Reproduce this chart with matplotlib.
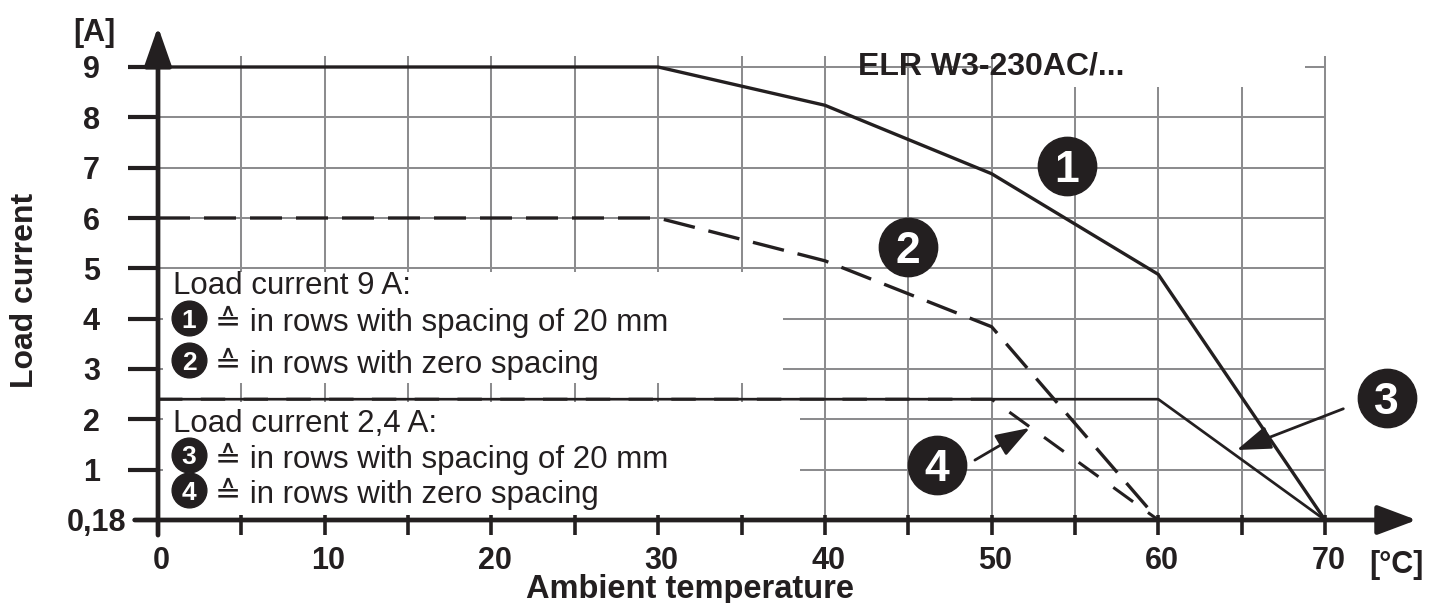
import numpy as np
import matplotlib
matplotlib.use("Agg")
import matplotlib.pyplot as plt
from matplotlib.patches import Rectangle

plt.rcParams['font.family'] = ['Liberation Sans', 'DejaVu Sans']

# ---------------- data ----------------
temp_1 = [0, 30, 40, 50, 60, 70]
curr_1 = [9, 9, 8.24, 6.88, 4.88, 0.18]
temp_2 = [0, 30, 40, 50, 60]
curr_2 = [6, 6, 5.15, 3.84, 0.18]
temp_3 = [0, 60, 70]
curr_3 = [2.4, 2.4, 0.18]
temp_4 = [0, 50, 60]
curr_4 = [2.4, 2.4, 0.18]

x_ticks = [0, 10, 20, 30, 40, 50, 60, 70]
x_grid = [5, 10, 15, 20, 25, 30, 35, 40, 45, 50, 55, 60, 65, 70]
y_ticks = [0.18, 1, 2, 3, 4, 5, 6, 7, 8, 9]
y_labels = ['0,18', '1', '2', '3', '4', '5', '6', '7', '8', '9']

title = "ELR W3-230AC/..."
legend_head_a = "Load current 9 A:"
legend_head_b = "Load current 2,4 A:"
legend_rows = ["\u2259 in rows with spacing of 20 mm", "\u2259 in rows with zero spacing"]

BLACK = '#231f20'
GRAY = '#8c8c8e'

Y0 = 0.18
def fwd(y):
    y = np.asarray(y, dtype=float)
    return np.where(y >= 1, y, (y - Y0) / (1 - Y0))

def inv(v):
    v = np.asarray(v, dtype=float)
    return np.where(v >= 1, v, v * (1 - Y0) + Y0)

W, H = 1442, 603
fig = plt.figure(figsize=(W / 100, H / 100), dpi=100)
ax = fig.add_axes([0, 0, 1, 1])
ax.set_yscale('function', functions=(fwd, inv))
pxu = (1325 - 158) / 70.0
pyu = (520 - 67) / 9.0
ax.set_xlim(-158 / pxu, (W - 158) / pxu)
ax.set_ylim(float(inv(-(H - 520) / pyu)), 520 / pyu)
ax.axis('off')

def fx(px):
    return px / W
def fy(py):
    return 1 - py / H

# grid
ax.vlines(x_grid, Y0, 9.22, color=GRAY, lw=1.45, zorder=1)
ax.hlines(range(1, 10), 0, 70, color=GRAY, lw=1.45, zorder=1)

# white boxes
for (x, y, w, h) in [(0.3, 2.72, 37.2, 2.2), (0.3, float(inv(0.08)), 38.2, 2.35 - float(inv(0.08))),
                     (50.08, 8.61, 18.7, 1.3)]:
    ax.add_patch(Rectangle((x, y), w, h, facecolor='white', edgecolor='none', zorder=2))

# curves
ax.plot(temp_1, curr_1, color=BLACK, lw=2.4, zorder=3, solid_joinstyle='miter')
ax.plot(temp_4, curr_4, color=BLACK, lw=2.2, zorder=3, dashes=(8.0, 6.0))
ax.plot(temp_3, curr_3, color=BLACK, lw=1.95, zorder=3)
ax.plot(temp_2, curr_2, color=BLACK, lw=2.4, zorder=3, dashes=(9.6, 4.2))

# axes with arrows
ax.hlines(y_ticks[1:], -1.8, 0, color=BLACK, lw=3, zorder=4)
ax.vlines(x_grid, float(inv(0.1)), float(inv(-0.3)), color=BLACK, lw=2.6, zorder=4)
ax.annotate('', xy=(0, 9.8), xytext=(0, float(inv(-0.3))),
            arrowprops=dict(arrowstyle='-|>,head_length=1.2,head_width=0.42', mutation_scale=20,
                            lw=3.4, color=BLACK, shrinkA=0, shrinkB=0), zorder=5)
ax.annotate('', xy=(75.5, Y0), xytext=(-1.4, Y0),
            arrowprops=dict(arrowstyle='-|>,head_length=1.2,head_width=0.45', mutation_scale=20,
                            lw=3.4, color=BLACK, shrinkA=0, shrinkB=0), zorder=5)

# tick labels
for v, lab in zip(y_ticks, y_labels):
    xx = -3.48 if v >= 1 else -1.9
    ax.text(xx, v, lab, ha='right', va='center_baseline', fontsize=22, weight='bold', color=BLACK)
for v in x_ticks:
    ax.text(v + 0.2, float(inv(-0.74)), str(v), ha='center', va='center_baseline', fontsize=22,
            weight='bold', color=BLACK)

fig.text(fx(1396), fy(562), "[\u00b0C]", ha='center', va='center_baseline', fontsize=22, weight='bold', color=BLACK)
fig.text(fx(94), fy(30), "[A]", ha='center', va='center_baseline', fontsize=22, weight='bold', color=BLACK)
fig.text(fx(25), fy(290), "Load current", rotation=90, ha='center', va='center', fontsize=23,
         weight='bold', color=BLACK)
fig.text(fx(690), fy(586), "Ambient temperature", ha='center', va='center_baseline', fontsize=23.5,
         weight='bold', color=BLACK)
fig.text(fx(858), fy(63), title, ha='left', va='center_baseline', fontsize=23, weight='bold', color=BLACK)

# circled markers
def badge(x, y, s, ms, fs, trans=None):
    kw = {} if trans is None else {'transform': trans}
    ax.plot([x], [y], 'o', ms=ms, color=BLACK, mec=BLACK, zorder=6, **kw)
    ax.text(x, y, s, color='white', weight='bold', fontsize=fs, ha='center', va='center_baseline',
            zorder=7, **kw)

badge(54.5, 7.03, '1', 42, 32)
badge(45.0, 5.43, '2', 42, 32)
badge(73.7, 2.43, '3', 42, 32)
badge(46.7, 1.09, '4', 42, 32)

ax.annotate('', xy=(64.7, 1.39), xytext=(71.1, 2.21),
            arrowprops=dict(arrowstyle='-|>,head_length=1.05,head_width=0.36', mutation_scale=20,
                            lw=2, color=BLACK, shrinkA=0, shrinkB=0), zorder=6)
ax.annotate('', xy=(52.3, 1.83), xytext=(49.0, 1.19),
            arrowprops=dict(arrowstyle='-|>,head_length=1.05,head_width=0.36', mutation_scale=20,
                            lw=2, color=BLACK, shrinkA=0, shrinkB=0), zorder=6)

# legend texts
ft = fig.transFigure
fig.text(fx(173), fy(283), legend_head_a, ha='left', va='center_baseline', fontsize=22.5, color=BLACK)
fig.text(fx(173), fy(420), legend_head_b, ha='left', va='center_baseline', fontsize=22.5, color=BLACK)
rows_y = [(318, '1', 0), (360, '2', 1), (455, '3', 0), (490, '4', 1)]
for py, s, k in rows_y:
    badge(fx(189), fy(py), s, 25, 19, trans=ft)
    fig.text(fx(215), fy(py), legend_rows[k], ha='left', va='center_baseline', fontsize=22.5, color=BLACK)

fig.savefig('out.png', dpi=100)
